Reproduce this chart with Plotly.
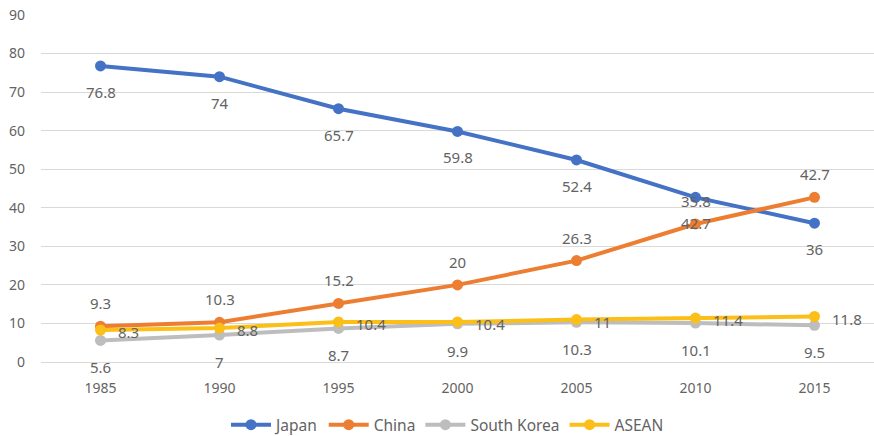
import plotly.graph_objects as go

years = ["1985", "1990", "1995", "2000", "2005", "2010", "2015"]
japan = [76.8, 74, 65.7, 59.8, 52.4, 42.7, 36]
china = [9.3, 10.3, 15.2, 20, 26.3, 35.8, 42.7]
south_korea = [5.6, 7, 8.7, 9.9, 10.3, 10.1, 9.5]
asean = [8.3, 8.8, 10.4, 10.4, 11, 11.4, 11.8]
y_ticks = [0, 10, 20, 30, 40, 50, 60, 70, 80, 90]

series = [
    ("Japan", japan, "#4472C4", -26),
    ("China", china, "#ED7D31", 23),
    ("South Korea", south_korea, "#BDBDBD", -27),
    ("ASEAN", asean, "#FBBF17", 0),
]

FONT = "Noto Sans"
GRAY = "#636363"

fig = go.Figure()
annotations = []
for name, vals, color, ys in series:
    fig.add_trace(go.Scatter(
        x=years, y=vals, name=name, mode="lines+markers",
        line=dict(color=color, width=4),
        marker=dict(color=color, size=11),
    ))
    for i, v in enumerate(vals):
        if name == "ASEAN":
            annotations.append(dict(x=i, y=v, xref="x", yref="y", text=f"{v:g}",
                                    showarrow=False, xanchor="left", xshift=15, yshift=-2,
                                    font=dict(family=FONT, size=15, color=GRAY)))
        else:
            annotations.append(dict(x=i, y=v, xref="x", yref="y", text=f"{v:g}",
                                    showarrow=False, xanchor="center", yshift=ys,
                                    font=dict(family=FONT, size=15, color=GRAY)))

fig.update_layout(
    width=874, height=436,
    margin=dict(l=41, r=0, t=15, b=74, autoexpand=False),
    paper_bgcolor="white", plot_bgcolor="white",
    font=dict(family=FONT, size=14, color=GRAY),
    annotations=annotations,
    showlegend=True,
    legend=dict(orientation="h", x=0.512, xanchor="center", xref="container",
                y=0.025, yanchor="middle", yref="container",
                font=dict(family=FONT, size=15.5, color=GRAY), itemwidth=40,
                traceorder="normal"),
    xaxis=dict(type="category", range=[-0.5, 6.5], showgrid=False, zeroline=False,
               showline=False, ticks="", ticklabelstandoff=16,
               tickfont=dict(family=FONT, size=14, color=GRAY)),
    yaxis=dict(range=[0, 90], tickvals=y_ticks, showgrid=True, gridcolor="#D9D9D9",
               gridwidth=1, zeroline=True, zerolinecolor="#D9D9D9", zerolinewidth=1,
               ticks="", ticklabelstandoff=15,
               tickfont=dict(family=FONT, size=14, color=GRAY)),
)

fig.write_html("out.html")
